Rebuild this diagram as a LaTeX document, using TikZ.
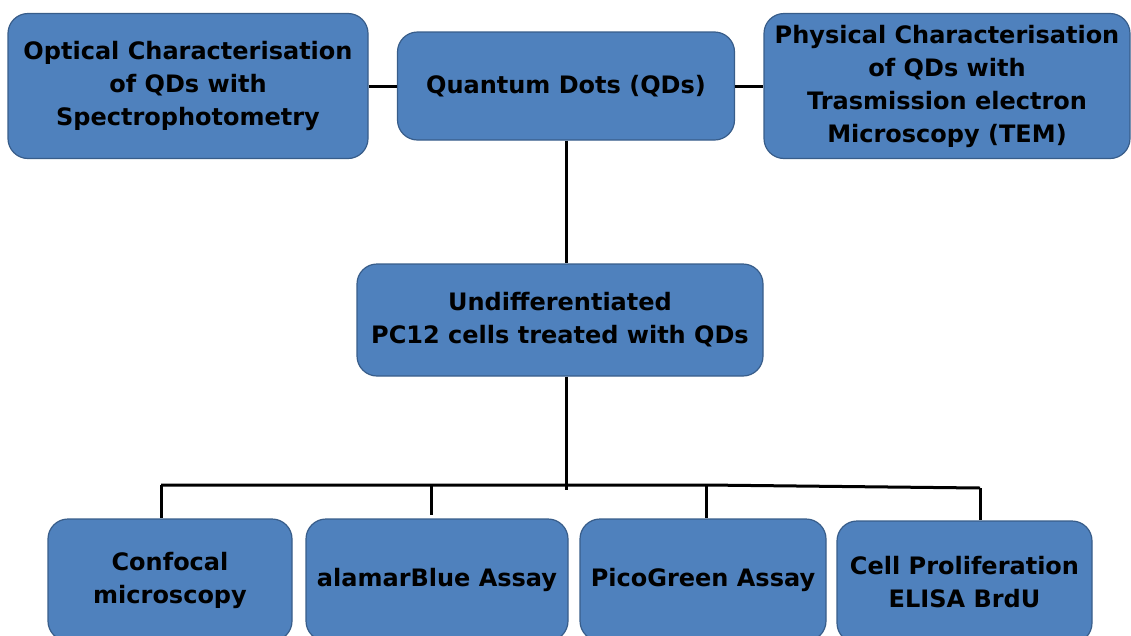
\documentclass[tikz,border=0pt]{standalone}
\usepackage{fontspec}
\setmainfont{DejaVu Sans}
\definecolor{boxblue}{HTML}{4F81BD}
\definecolor{boxedge}{HTML}{385D8A}
\tikzset{
  stagebox/.style={draw=boxedge, line width=1.2pt, fill=boxblue, rounded corners=20pt,
    align=center, inner sep=0pt, font=\bfseries\fontsize{24}{33}\selectfont},
  link/.style={line width=3pt, black}
}
\begin{document}
\begin{tikzpicture}[x=1pt, y=-1pt]
    \useasboundingbox (0,0) rectangle (1131,635);
    \clip (0,0) rectangle (1131,635);

    % top row
    \node[stagebox, minimum width=360pt, minimum height=145pt] (optical) at (188, 86)
        {Optical Characterisation\\of QDs with\\Spectrophotometry};
    \node[stagebox, minimum width=337pt, minimum height=108pt] (qds) at (566, 86)
        {Quantum Dots (QDs)};
    \node[stagebox, minimum width=366pt, minimum height=145pt] (physical) at (947, 86)
        {Physical Characterisation\\of QDs with\\Trasmission electron\\Microscopy (TEM)};

    % middle
    \node[stagebox, minimum width=406pt, minimum height=112pt] (pc12) at (560, 320)
        {Undifferentiated\\PC12 cells treated with QDs};

    % assays
    \node[stagebox, minimum width=244pt, minimum height=122pt] (confocal) at (170, 580)
        {Confocal\\microscopy};
    \node[stagebox, minimum width=262pt, minimum height=122pt] (alamar) at (437, 580)
        {alamarBlue Assay};
    \node[stagebox, minimum width=246pt, minimum height=122pt] (pico) at (703, 580)
        {PicoGreen Assay};
    \node[stagebox, minimum width=255pt, minimum height=122pt] (brdu) at (964.5, 582)
        {Cell Proliferation\\ELISA BrdU};

    % connectors
    \coordinate (hub) at (566, 490);
    \coordinate (busL) at (161, 485);
    \coordinate (busB) at (431, 485);
    \coordinate (busM) at (706, 485);
    \coordinate (busR) at (980, 488);

    \draw[link] (optical.east) -- (qds.west);
    \draw[link] (qds.east) -- (physical.west);
    \draw[link] (qds.south) -- (qds.south |- pc12.north);
    \draw[link] (qds.south |- pc12.south) -- (hub);
    \draw[link] (busL) -- (busM) -- (busR);
    \draw[link] (busL) -- (busL |- confocal.north);
    \draw[link] (busB) -- ++(0, 30);
    \draw[link] (busM) -- (busM |- pico.north);
    \draw[link] (busR) -- (busR |- brdu.north);
\end{tikzpicture}
\end{document}
